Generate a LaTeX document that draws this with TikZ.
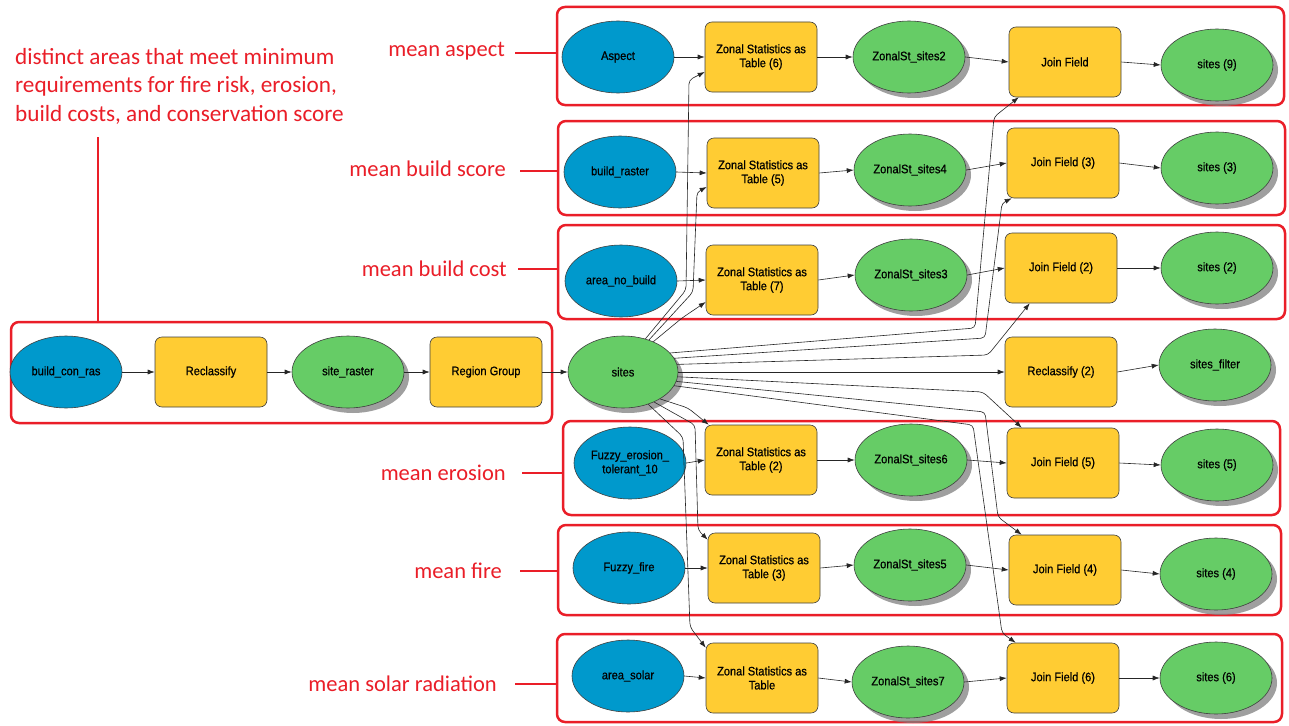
\documentclass[tikz,border=0pt]{standalone}
\usepackage{fontspec}
\setmainfont{Carlito}
\newfontfamily\nf[FakeStretch=0.9,FakeBold=0.6]{Liberation Sans}
\usetikzlibrary{shapes.geometric,shadows,arrows.meta}
\definecolor{inblue}{RGB}{0,153,204}
\definecolor{tyellow}{RGB}{255,204,51}
\definecolor{ogreen}{RGB}{102,204,102}
\definecolor{rline}{RGB}{234,30,40}
\tikzset{
  nodetext/.style={font=\nf\fontsize{12.3}{14}\selectfont, text=black, align=center},
  inp/.style={nodetext, ellipse, fill=inblue, draw=black!75, line width=0.6pt, minimum width=112pt, minimum height=72pt, inner sep=0pt},
  outp/.style={nodetext, ellipse, fill=ogreen, draw=black!75, line width=0.6pt, minimum width=112pt, minimum height=72pt, inner sep=0pt,
     drop shadow={shadow xshift=5pt, shadow yshift=-5pt, fill=black!50, opacity=0.75}},
  tool/.style={nodetext, rectangle, rounded corners=7pt, fill=tyellow, draw=black!75, line width=0.6pt, minimum width=112pt, minimum height=70pt, inner sep=0pt},
  grp/.style={rectangle, draw=rline, line width=2.5pt, rounded corners=8pt, inner sep=0pt},
  lab/.style={text=rline, font=\fontsize{22.5}{28.5}\selectfont, inner sep=0pt},
  toplab/.style={lab, font=\fontsize{23.2}{28.5}\selectfont},
  redline/.style={draw=rline, line width=2.5pt},
  arr/.style={-{Latex[length=7pt,width=5pt]}, line width=0.6pt, black!85},
  link/.style={arr, rounded corners=4pt},
}
\begin{document}
\begin{tikzpicture}[x=1pt,y=-1pt]
\useasboundingbox (0,0) rectangle (1289,725);
\fill[white] (0,0) rectangle (1289,725);

% group boxes
\node[grp, minimum width=727pt, minimum height=98pt] (g1) at (920.5,56) {};
\node[grp, minimum width=727pt, minimum height=94pt] (g2) at (921.5,168) {};
\node[grp, minimum width=727pt, minimum height=94pt] (g3) at (921.5,272) {};
\node[grp, minimum width=541pt, minimum height=101pt] (g0) at (281.5,372.5) {};
\node[grp, minimum width=717pt, minimum height=94pt] (g5) at (921.5,468) {};
\node[grp, minimum width=723pt, minimum height=90pt] (g6) at (919.5,570) {};
\node[grp, minimum width=725pt, minimum height=88pt] (g7) at (919.5,678) {};

% labels
\node[toplab, anchor=north west, align=left] (top) at (15,48) {distinct areas that meet minimum\\requirements for fire risk, erosion,\\build costs, and conservation score};
\coordinate (vtop) at (98,137);
\draw[redline] (vtop) -- (vtop |- g0.north);

\node[lab, anchor=east] (l1) at (505,51) {mean aspect};
\node[lab, anchor=east] (l2) at (506,169) {mean build score};
\node[lab, anchor=east] (l3) at (507,269) {mean build cost};
\node[lab, anchor=east] (l5) at (506,473) {mean erosion};
\node[lab, anchor=east] (l6) at (502,571) {mean fire};
\node[lab, anchor=east] (l7) at (497,684) {mean solar radiation};
\draw[redline] ([xshift=10pt,yshift=-2pt]l1.east) -- ([yshift=-2pt]l1.east -| g1.west);
\draw[redline] ([xshift=14pt,yshift=-2pt]l2.east) -- ([yshift=-2pt]l2.east -| g2.west);
\draw[redline] ([xshift=11pt]l3.east) -- (l3.east -| g3.west);
\draw[redline] ([xshift=16pt]l5.east) -- (l5.east -| g5.west);
\draw[redline] ([xshift=18pt]l6.east) -- (l6.east -| g6.west);
\draw[redline] ([xshift=18pt]l7.east) -- (l7.east -| g7.west);

% left chain
\node[inp] (bcr) at (66,372) {build\_con\_ras};
\node[tool] (rc) at (211,372) {Reclassify};
\node[outp] (sr) at (348,372) {site\_raster};
\node[tool] (rg) at (486,372) {Region Group};
\node[outp, minimum width=110pt] (sites) at (623,372) {sites};
\node[tool] (rc2) at (1061,372) {Reclassify (2)};
\node[outp] (sf) at (1215,365) {sites\_filter};

% row 1
\node[inp] (asp) at (618,57) {Aspect};
\node[tool] (z6) at (761,57) {Zonal Statistics as\\Table (6)};
\node[outp] (zs2) at (909,57) {ZonalSt\_sites2};
\node[tool] (jf1) at (1065,62) {Join Field};
\node[outp] (s9) at (1217,65) {sites (9)};
% row 2
\node[inp] (br) at (620,172) {build\_raster};
\node[tool] (z5) at (763,173) {Zonal Statistics as\\Table (5)};
\node[outp] (zs4) at (910,170) {ZonalSt\_sites4};
\node[tool] (jf3) at (1063,163) {Join Field (3)};
\node[outp] (s3) at (1217,168) {sites (3)};
% row 3
\node[inp] (anb) at (621,281) {area\_no\_build};
\node[tool] (z7) at (762,280) {Zonal Statistics as\\Table (7)};
\node[outp] (zs3) at (911,275) {ZonalSt\_sites3};
\node[tool] (jf2) at (1061,268) {Join Field (2)};
\node[outp] (s2) at (1217,268) {sites (2)};
% row 5
\node[inp] (fe) at (630,463) {Fuzzy\_erosion\_\\tolerant\_10};
\node[tool] (z2) at (761,460) {Zonal Statistics as\\Table (2)};
\node[outp] (zs6) at (911,460) {ZonalSt\_sites6};
\node[tool] (jf5) at (1063,463) {Join Field (5)};
\node[outp] (s5) at (1217,465) {sites (5)};
% row 6
\node[inp] (ff) at (629,568) {Fuzzy\_fire};
\node[tool] (z3) at (764,568) {Zonal Statistics as\\Table (3)};
\node[outp] (zs5) at (910,565) {ZonalSt\_sites5};
\node[tool] (jf4) at (1065,570) {Join Field (4)};
\node[outp] (s4) at (1216,574) {sites (4)};
% row 7
\node[inp] (as) at (628,676) {area\_solar};
\node[tool] (zt) at (762,678) {Zonal Statistics as\\Table};
\node[outp] (zs7) at (908,682) {ZonalSt\_sites7};
\node[tool] (jf6) at (1063,678) {Join Field (6)};
\node[outp] (s6) at (1216,678) {sites (6)};

% straight chains
\foreach \a/\b in {bcr/rc, rc/sr, sr/rg, rg/sites, rc2/sf,
  asp/z6, z6/zs2, zs2/jf1, jf1/s9,
  br/z5, z5/zs4, zs4/jf3, jf3/s3,
  anb/z7, z7/zs3, zs3/jf2, jf2/s2,
  fe/z2, z2/zs6, zs6/jf5, jf5/s5,
  ff/z3, z3/zs5, zs5/jf4, jf4/s4,
  as/zt, zt/zs7, zs7/jf6, jf6/s6}
  \draw[arr] (\a.east) -- (\b.west);

% links from sites
\draw[link] (sites.56) -- (686,290) -- (689,80) -- ([yshift=-15pt]z6.west);
\draw[link] (sites.51) -- (693,292) -- (697,192) -- ([yshift=-14pt]z5.west);
\draw[link] (sites.45) -- (682,318) -- ([yshift=-22pt]z7.west);
\draw[link] (sites.22) -- (975,328) -- (994,117) -- ([xshift=10pt]jf1.south west);
\draw[link] (sites.15) -- (985,338) -- (1002,203) -- ([xshift=5pt]jf3.south west);
\draw[link] (sites.8) -- (988,355) -- ([xshift=25pt]jf2.south west);
\draw[arr] (sites.east) -- (rc2.west);
\draw[link] (sites.-5) -- (983,392) -- ([xshift=15pt]jf5.north west);
\draw[link] (sites.-10) -- (985,412) -- (998,517) -- ([xshift=13pt]jf4.north west);
\draw[link] (sites.-15) -- (973,425) -- (1002,633) -- ([xshift=9pt]jf6.north west);
\draw[link] (sites.-36) -- (688,408) -- ([xshift=4pt]z2.north west);
\draw[link] (sites.-44) -- (695,425) -- (698,530) -- ([yshift=-7pt]z3.north west);
\draw[link] (sites.-52) -- (683,437) -- (690,627) -- ([yshift=-5pt]zt.north west);
\end{tikzpicture}
\end{document}
